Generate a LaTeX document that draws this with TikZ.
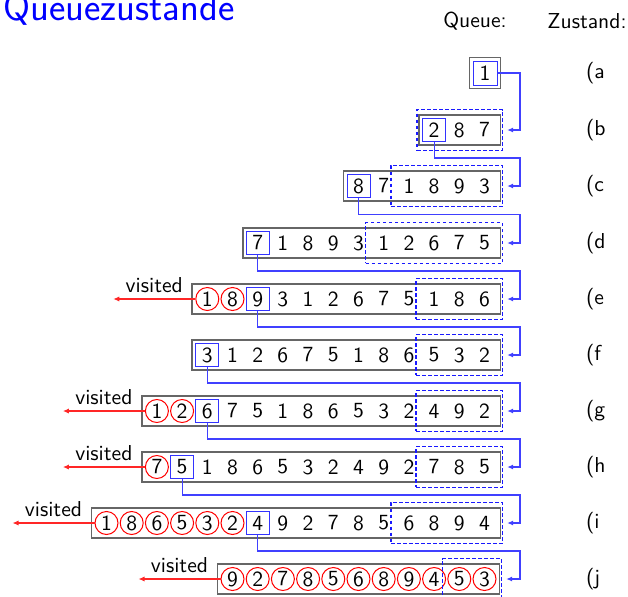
\documentclass[tikz,border=0pt]{standalone}
\usepackage{fontspec}
\usetikzlibrary{arrows.meta, positioning, fit, calc}

\begin{document}
\begin{tikzpicture}[
  x=0.5pt, y=-0.5pt,
  every node/.style={font=\fontsize{10.8}{12}\selectfont\sffamily},
  cell/.style={minimum width=12.6pt, minimum height=11.5pt, inner sep=0pt},
  rest/.style={},
  head/.style={draw=blue!80, minimum width=11.5pt, line width=0.5pt},
  seen/.style={circle, draw=red, minimum size=11.5pt, line width=0.5pt},
  qbox/.style={draw=black!60, line width=0.9pt, inner sep=1.5pt},
  newbox/.style={draw=blue!90, dash pattern=on 1.8pt off 1.2pt, line width=0.7pt, inner xsep=2.5pt, inner ysep=4.25pt},
  link/.style={draw=blue!75, line width=0.6pt, -{Latex[length=3pt,width=2.6pt]}, shorten >=2pt},
  visit/.style={draw=red!85, line width=0.55pt, -{Latex[length=3pt,width=2.6pt]}},
  tag/.style={anchor=west}
]
\useasboundingbox (0,0) rectangle (628,596);

% Titel und Kopfzeile
\node[anchor=base west, inner sep=0pt, text=blue, font=\fontsize{19.5}{21}\selectfont\sffamily] (title) at (3,20) {Queuezustände};
\node (hq) at (475,21) {Queue:};
\node (hz) at (587,21) {Zustand:};

% Zeilen der Queue
\node[cell, head, minimum height=12pt, minimum width=12pt] (a1) at (485,73) {1};
\node[qbox, fit=(a1)] (aq) {};

\foreach \s/\v [count=\i] in {head/2, rest/8, rest/7}
  \node[cell, \s] (b\i) at ({484.5-(3-\i)*25.2},130) {\v};
\node[qbox, fit=(b1)(b3)] (bq) {};
\node[newbox, fit=(b1)(b3)] (bn) {};

\foreach \s/\v [count=\i] in {head/8, rest/7, rest/1, rest/8, rest/9, rest/3}
  \node[cell, \s] (c\i) at ({484.5-(6-\i)*25.2},186) {\v};
\node[qbox, fit=(c1)(c6)] (cq) {};
\node[newbox, fit=(c3)(c6)] (cn) {};

\foreach \s/\v [count=\i] in {head/7, rest/1, rest/8, rest/9, rest/3, rest/1, rest/2, rest/6, rest/7, rest/5}
  \node[cell, \s] (d\i) at ({484.5-(10-\i)*25.2},243) {\v};
\node[qbox, fit=(d1)(d10)] (dq) {};
\node[newbox, fit=(d6)(d10)] (dn) {};

\foreach \s/\v [count=\i] in {seen/1, seen/8, head/9, rest/3, rest/1, rest/2, rest/6, rest/7, rest/5, rest/1, rest/8, rest/6}
  \node[cell, \s] (e\i) at ({484.5-(12-\i)*25.2},299) {\v};
\node[qbox, fit=(e1)(e12)] (eq) {};
\node[newbox, fit=(e10)(e12)] (en) {};

\foreach \s/\v [count=\i] in {head/3, rest/1, rest/2, rest/6, rest/7, rest/5, rest/1, rest/8, rest/6, rest/5, rest/3, rest/2}
  \node[cell, \s] (f\i) at ({484.5-(12-\i)*25.2},355) {\v};
\node[qbox, fit=(f1)(f12)] (fq) {};
\node[newbox, fit=(f10)(f12)] (fn) {};

\foreach \s/\v [count=\i] in {seen/1, seen/2, head/6, rest/7, rest/5, rest/1, rest/8, rest/6, rest/5, rest/3, rest/2, rest/4, rest/9, rest/2}
  \node[cell, \s] (g\i) at ({484.5-(14-\i)*25.2},411) {\v};
\node[qbox, fit=(g1)(g14)] (gq) {};
\node[newbox, fit=(g12)(g14)] (gn) {};

\foreach \s/\v [count=\i] in {seen/7, head/5, rest/1, rest/8, rest/6, rest/5, rest/3, rest/2, rest/4, rest/9, rest/2, rest/7, rest/8, rest/5}
  \node[cell, \s] (h\i) at ({484.5-(14-\i)*25.2},467) {\v};
\node[qbox, fit=(h1)(h14)] (hq) {};
\node[newbox, fit=(h12)(h14)] (hn) {};

\foreach \s/\v [count=\i] in {seen/1, seen/8, seen/6, seen/5, seen/3, seen/2, head/4, rest/9, rest/2, rest/7, rest/8, rest/5, rest/6, rest/8, rest/9, rest/4}
  \node[cell, \s] (i\i) at ({484.5-(16-\i)*25.2},523) {\v};
\node[qbox, fit=(i1)(i16)] (iq) {};
\node[newbox, fit=(i13)(i16)] (in) {};

\foreach \s/\v [count=\i] in {seen/9, seen/2, seen/7, seen/8, seen/5, seen/6, seen/8, seen/9, seen/4, seen/5, seen/3}
  \node[cell, \s] (j\i) at ({484.5-(11-\i)*25.2},579) {\v};
\node[qbox, fit=(j1)(j11)] (jq) {};
\node[newbox, fit=(j10)(j11)] (jn) {};

% Zustaende
\foreach \r/\y in {a/73, b/130, c/186, d/243, e/299, f/355, g/411, h/467, i/523, j/579}
  \node[tag] (l\r) at (579,\y) {(\r};

% Verbindungen zwischen den Zeilen
\coordinate (rail) at (520,0);
\coordinate (bc) at ($(bq.south)!.5!(cq.north)$);
\coordinate (cd) at ($(cq.south)!.5!(dq.north)$);
\coordinate (de) at ($(dq.south)!.5!(eq.north)$);
\coordinate (ef) at ($(eq.south)!.5!(fq.north)$);
\coordinate (fg) at ($(fq.south)!.5!(gq.north)$);
\coordinate (gh) at ($(gq.south)!.5!(hq.north)$);
\coordinate (hi) at ($(hq.south)!.5!(iq.north)$);
\coordinate (ij) at ($(iq.south)!.5!(jq.north)$);

\draw[link] (a1.east) -| (rail |- bn.east) -- (bn.east);
\draw[link] (b1.south) |- (bc -| rail) |- (cn.east);
\draw[link] (c1.south) |- (cd -| rail) |- (dn.east);
\draw[link] (d1.south) |- (de -| rail) |- (en.east);
\draw[link] (e3.south) |- (ef -| rail) |- (fn.east);
\draw[link] (f1.south) |- (fg -| rail) |- (gn.east);
\draw[link] (g3.south) |- (gh -| rail) |- (hn.east);
\draw[link] (h2.south) |- (hi -| rail) |- (in.east);
\draw[link] (i7.south) |- (ij -| rail) |- (jn.east);

% besuchte Knoten
\foreach \r in {e, g, h, i, j} {
  \coordinate (v\r) at ([xshift=-41pt]\r1.west);
  \draw[visit] (\r1.west) -- node[above, inner sep=3pt] {visited} (v\r);
}
\end{tikzpicture}
\end{document}
